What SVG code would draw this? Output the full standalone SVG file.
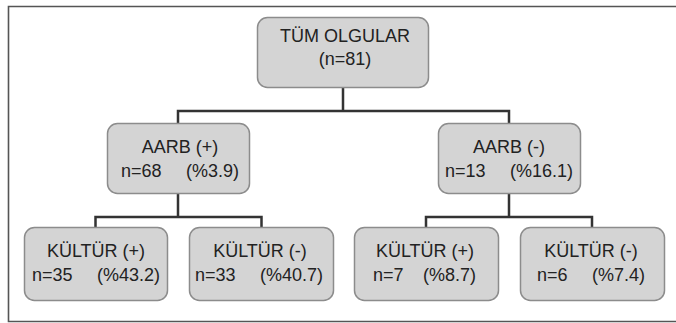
<svg xmlns="http://www.w3.org/2000/svg" width="676" height="323" viewBox="0 0 676 323">
<style>
.box{fill:#d4d4d4;stroke:#8c8c8c;stroke-width:1.5}
.t{font-family:"Liberation Sans",Arial,sans-serif;font-size:18px;fill:#222}
.c{text-anchor:middle}
.e{text-anchor:end}
.con{fill:none;stroke:#333;stroke-width:2.5}
.frame{fill:none;stroke:#555;stroke-width:1.6}
</style>
<rect width="676" height="323" fill="#fff"/>
<path class="frame" d="M676 6.5H8.5V321.5H676"/>
<g id="connectors">
<path class="con" d="M343 87V111M178 123V111H509V123"/>
<path class="con" d="M178 193V217M95.5 227V217H261.5V227"/>
<path class="con" d="M509 193V217M426 227V217H592V227"/>
</g>
<g id="n-all">
<rect class="box" x="257.5" y="17.5" width="171" height="70" rx="10"/>
<text class="t c" x="345" y="42">TÜM OLGULAR</text>
<text class="t c" x="345" y="65">(n=81)</text>
</g>
<g id="n-aarb-pos">
<rect class="box" x="107.5" y="123.5" width="142" height="70" rx="10"/>
<text class="t c" x="180" y="153">AARB (+)</text>
<text class="t" y="177"><tspan x="121">n=68</tspan><tspan x="186">(%3.9)</tspan></text>
</g>
<g id="n-aarb-neg">
<rect class="box" x="438.5" y="123.5" width="142" height="70" rx="10"/>
<text class="t c" x="509" y="153">AARB (-)</text>
<text class="t" y="177"><tspan x="445">n=13</tspan><tspan x="510">(%16.1)</tspan></text>
</g>
<g id="n-k1">
<rect class="box" x="24.5" y="227.5" width="143" height="73" rx="10"/>
<text class="t c" x="96" y="257">KÜLTÜR (+)</text>
<text class="t" y="281"><tspan x="32">n=35</tspan><tspan x="97">(%43.2)</tspan></text>
</g>
<g id="n-k2">
<rect class="box" x="189.5" y="227.5" width="144" height="73" rx="10"/>
<text class="t c" x="260" y="257">KÜLTÜR (-)</text>
<text class="t" y="281"><tspan x="195">n=33</tspan><tspan x="260">(%40.7)</tspan></text>
</g>
<g id="n-k3">
<rect class="box" x="354.5" y="227.5" width="144" height="73" rx="10"/>
<text class="t c" x="425" y="257">KÜLTÜR (+)</text>
<text class="t" y="281"><tspan x="373">n=7</tspan><tspan x="423">(%8.7)</tspan></text>
</g>
<g id="n-k4">
<rect class="box" x="520.5" y="227.5" width="144" height="73" rx="10"/>
<text class="t c" x="591" y="257">KÜLTÜR (-)</text>
<text class="t" y="281"><tspan x="537">n=6</tspan><tspan x="592">(%7.4)</tspan></text>
</g>
</svg>
